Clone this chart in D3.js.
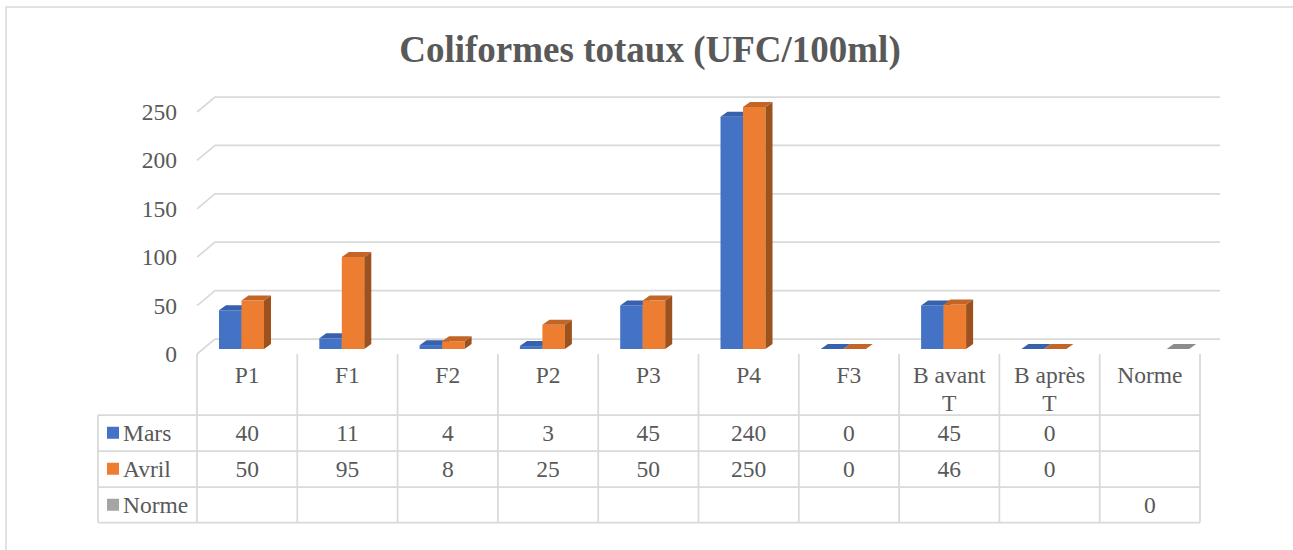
<!DOCTYPE html>
<html>
<head>
<meta charset="utf-8">
<script src="https://cdn.jsdelivr.net/npm/d3@7"></script>
<style>
  html, body { margin: 0; padding: 0; background: #fff; }
  svg { display: block; }
</style>
</head>
<body>
<svg id="chart" width="1293" height="550"></svg>
<script>
// données
const categories = ["P1", "F1", "F2", "P2", "P3", "P4", "F3", "B avant T", "B après T", "Norme"];
const mars  = [40, 11, 4, 3, 45, 240, 0, 45, 0, null];
const avril = [50, 95, 8, 25, 50, 250, 0, 46, 0, null];
const norme = [null, null, null, null, null, null, null, null, null, 0];
const seriesNames = ["Mars", "Avril", "Norme"];
const yTicks = [0, 50, 100, 150, 200, 250];

const series = [
  { name: seriesNames[0], values: mars,  front: "#4472C4", top: "#3761ad", side: "#2c4d87" },
  { name: seriesNames[1], values: avril, front: "#ED7D31", top: "#c26527", side: "#9d521d" },
  { name: seriesNames[2], values: norme, front: "#A5A5A5", top: "#8c8c8c", side: "#777777" }
];

const svg = d3.select("#chart");
const grid = "#d9d9d9";
const txt = "#595959";
const serif = "'Liberation Serif', 'Times New Roman', serif";

// cadre
svg.append("path")
  .attr("d", "M6,560 L6,7 L1300,7")
  .attr("fill", "none").attr("stroke", grid).attr("stroke-width", 1.5);

// titre
svg.append("text")
  .attr("x", 650).attr("y", 62)
  .attr("text-anchor", "middle")
  .attr("font-family", serif).attr("font-size", 37).attr("font-weight", "bold").attr("fill", txt)
  .text("Coliformes totaux (UFC/100ml)");

// echelles
const x = d3.scaleBand().domain(categories).range([197, 1200]);
const xs = d3.scaleBand().domain(d3.range(series.length)).range([22, 89.5]);
const yFront = d3.scaleLinear().domain([0, 250]).range([354, 112]);
const yBar = d3.scaleLinear().domain([0, 250]).range([349, 107]);
const wallDx = 18, wallDy = -15;
const barDx = 7, barDy = -5;

const label = (sel) => sel.attr("font-family", serif).attr("font-size", 23.5).attr("fill", txt);

// grille (mur du fond + mur gauche)
const gl = svg.append("g");
yTicks.forEach(t => {
  const yf = yFront(t);
  gl.append("path")
    .attr("d", `M${x.range()[0]},${yf} L${x.range()[0] + wallDx},${yf + wallDy} L1220,${yf + wallDy}`)
    .attr("fill", "none").attr("stroke", grid).attr("stroke-width", 1.75);
  svg.append("text")
    .attr("x", 177).attr("y", yf + 8)
    .attr("text-anchor", "end")
    .call(label)
    .text(t);
});

// barres 3D
const bars = svg.append("g");
categories.forEach((c, i) => {
  series.forEach((s, k) => {
    const v = s.values[i];
    if (v === null || v === undefined) return;
    const x0 = x(c) + xs(k), w = xs.bandwidth();
    const y0 = yBar(0), y1 = yBar(v);
    const g = bars.append("g");
    if (v > 0) {
      g.append("rect").attr("x", x0).attr("y", y1).attr("width", w).attr("height", y0 - y1)
        .attr("fill", s.front);
      g.append("path")
        .attr("d", `M${x0 + w},${y1} L${x0 + w + barDx},${y1 + barDy} L${x0 + w + barDx},${y0 + barDy} L${x0 + w},${y0} Z`)
        .attr("fill", s.side);
    }
    g.append("path")
      .attr("d", `M${x0},${y1} L${x0 + barDx},${y1 + barDy} L${x0 + w + barDx},${y1 + barDy} L${x0 + w},${y1} Z`)
      .attr("fill", s.top);
  });
});

// tableau de données
const rowTop = [415, 451, 487];
const rowH = 35.5;
const tableLeft = 98;
const tg = svg.append("g");
const line = (x1, y1, x2, y2) => tg.append("line")
  .attr("x1", x1).attr("y1", y1).attr("x2", x2).attr("y2", y2)
  .attr("stroke", grid).attr("stroke-width", 1.75);

categories.forEach(c => line(x(c), 354, x(c), rowTop[2] + rowH));
line(x.range()[1], 354, x.range()[1], rowTop[2] + rowH);
line(tableLeft, rowTop[0], tableLeft, rowTop[2] + rowH);
rowTop.forEach(r => line(tableLeft, r, x.range()[1], r));
line(tableLeft, rowTop[2] + rowH, x.range()[1], rowTop[2] + rowH);

// étiquettes de catégories (retour à la ligne si trop large)
categories.forEach(c => {
  const cx = x(c) + x.bandwidth() / 2;
  const t = svg.append("text").attr("x", cx).attr("y", 383)
    .attr("text-anchor", "middle").call(label);
  const words = c.split(" ");
  t.text(c);
  let lines = [c];
  if (t.node().getComputedTextLength() > x.bandwidth() - 20 && words.length > 1) {
    lines = [words.slice(0, -1).join(" "), words[words.length - 1]];
  }
  t.text(null);
  lines.forEach((l, j) => {
    t.append("tspan").attr("x", cx).attr("y", 383 + j * 28).text(l);
  });
});

// lignes des séries
series.forEach((s, k) => {
  const cy = rowTop[k] + rowH / 2;
  svg.append("rect").attr("x", 107).attr("y", cy - 6).attr("width", 12).attr("height", 12)
    .attr("fill", s.front);
  svg.append("text").attr("x", 123).attr("y", cy + 8).call(label).text(s.name);
  categories.forEach((c, i) => {
    const v = s.values[i];
    if (v === null || v === undefined) return;
    svg.append("text")
      .attr("x", x(c) + x.bandwidth() / 2).attr("y", cy + 8)
      .attr("text-anchor", "middle")
      .call(label)
      .text(v);
  });
});
</script>
</body>
</html>
